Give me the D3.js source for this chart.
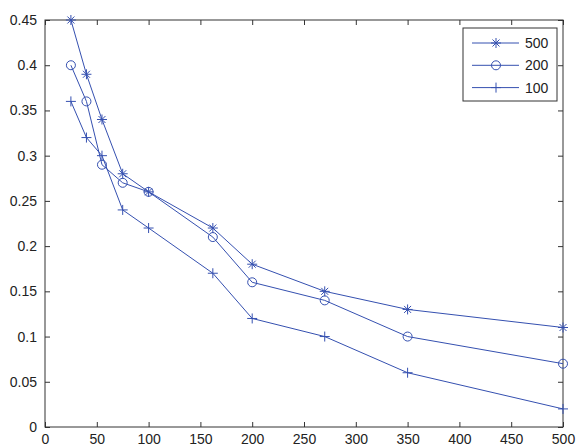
<!DOCTYPE html>
<html>
<head>
<meta charset="utf-8">
<script src="https://cdn.jsdelivr.net/npm/d3@7"></script>
<style>
  body { margin: 0; background: #fff; }
  svg text { font-family: "Liberation Sans", Arial, sans-serif; }
</style>
</head>
<body>
<div id="chart"></div>
<script>
var xValues = [25, 40, 55, 75, 100, 162, 200, 270, 350, 500];
var series500 = [0.45, 0.39, 0.34, 0.28, 0.26, 0.22, 0.18, 0.15, 0.13, 0.11];
var series200 = [0.40, 0.36, 0.29, 0.27, 0.26, 0.21, 0.16, 0.14, 0.10, 0.07];
var series100 = [0.36, 0.32, 0.30, 0.24, 0.22, 0.17, 0.12, 0.10, 0.06, 0.02];
var seriesNames = ['500', '200', '100'];
var seriesMarkers = ['star', 'circle', 'plus'];
var xTicks = [0, 50, 100, 150, 200, 250, 300, 350, 400, 450, 500];
var yTicks = [0, 0.05, 0.1, 0.15, 0.2, 0.25, 0.3, 0.35, 0.4, 0.45];

var W = 576, H = 448;
var margin = { top: 20, right: 13, bottom: 21, left: 45 };
var width = W - margin.left - margin.right,
    height = H - margin.top - margin.bottom;
var lineColor = '#3550b0';
var axisColor = '#333';

var svg = d3.select('#chart').append('svg')
    .attr('width', W)
    .attr('height', H);

var x = d3.scaleLinear().domain([0, 500]).range([0, width]);
var y = d3.scaleLinear().domain([0, 0.45]).range([height, 0]);

var g = svg.append('g')
    .attr('transform', 'translate(' + margin.left + ',' + margin.top + ')');

function styleAxis(sel, showText) {
    sel.select('.domain').remove();
    sel.selectAll('line').attr('stroke', axisColor);
    sel.selectAll('text')
        .attr('fill', '#222')
        .attr('font-size', '14px')
        .style('display', showText ? null : 'none');
}

g.append('g').attr('transform', 'translate(0,' + height + ')')
    .call(d3.axisBottom(x).tickValues(xTicks).tickSizeInner(-5).tickPadding(7).tickFormat(d3.format('d')))
    .call(styleAxis, true);
g.append('g')
    .call(d3.axisTop(x).tickValues(xTicks).tickSizeInner(-5).tickFormat(''))
    .call(styleAxis, false);
g.append('g')
    .call(d3.axisLeft(y).tickValues(yTicks).tickSizeInner(-5).tickPadding(8).tickFormat(function(d) { return d === 0 ? '0' : String(+d.toFixed(2)); }))
    .call(styleAxis, true);
g.append('g').attr('transform', 'translate(' + width + ',0)')
    .call(d3.axisRight(y).tickValues(yTicks).tickSizeInner(-5).tickFormat(''))
    .call(styleAxis, false);

g.append('rect')
    .attr('width', width).attr('height', height)
    .attr('fill', 'none').attr('stroke', axisColor).attr('stroke-width', 1);

function drawMarker(sel, type) {
    if (type === 'circle') {
        sel.append('circle').attr('r', 4.5)
            .attr('fill', 'none').attr('stroke', lineColor).attr('stroke-width', 1);
    } else if (type === 'plus') {
        sel.append('path').attr('d', 'M-5,0H5M0,-5V5')
            .attr('stroke', lineColor).attr('stroke-width', 1);
    } else {
        sel.append('path').attr('d', 'M-5,0H5M0,-5V5M-3.5,-3.5L3.5,3.5M-3.5,3.5L3.5,-3.5')
            .attr('stroke', lineColor).attr('stroke-width', 1);
    }
}

var allSeries = [series500, series200, series100];
var line = d3.line()
    .x(function(d, i) { return x(xValues[i]); })
    .y(function(d) { return y(d); });

allSeries.forEach(function(vals, s) {
    g.append('path')
        .datum(vals)
        .attr('d', line)
        .attr('fill', 'none')
        .attr('stroke', lineColor)
        .attr('stroke-width', 1);
    vals.forEach(function(v, i) {
        var m = g.append('g')
            .attr('transform', 'translate(' + x(xValues[i]) + ',' + y(v) + ')');
        drawMarker(m, seriesMarkers[s]);
    });
});

// legend
var lg = svg.append('g').attr('transform', 'translate(463,28)');
lg.append('rect')
    .attr('width', 94).attr('height', 73)
    .attr('fill', '#fff').attr('stroke', axisColor).attr('stroke-width', 1);
seriesNames.forEach(function(name, i) {
    var row = lg.append('g').attr('transform', 'translate(0,' + (15 + i * 22.3) + ')');
    row.append('line')
        .attr('x1', 9).attr('x2', 56)
        .attr('stroke', lineColor).attr('stroke-width', 1);
    var m = row.append('g').attr('transform', 'translate(33,0)');
    drawMarker(m, seriesMarkers[i]);
    row.append('text')
        .attr('x', 62).attr('y', 5)
        .attr('font-size', '14px').attr('fill', '#222')
        .text(name);
});
</script>
</body>
</html>
